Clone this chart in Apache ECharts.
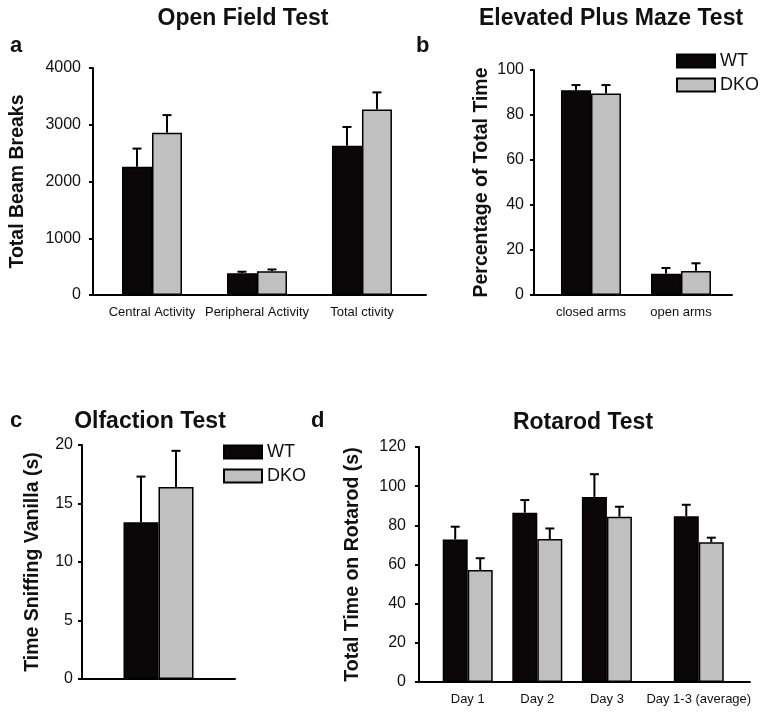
<!DOCTYPE html>
<html><head><meta charset="utf-8">
<script src="https://cdn.jsdelivr.net/npm/echarts@6/dist/echarts.min.js"></script>
<style>html,body{margin:0;padding:0;background:#fff}#c{width:768px;height:720px}</style>
</head><body><div id="c"></div>
<script>
// ---- data ----
const openFieldCats = ['Central Activity', 'Peripheral Activity', 'Total ctivity'];
const openFieldWT = [2260, 385, 2630];
const openFieldWTErr = [320, 25, 330];
const openFieldDKO = [2860, 420, 3270];
const openFieldDKOErr = [310, 30, 300];

const mazeCats = ['closed arms', 'open arms'];
const mazeWT = [91.0, 9.5];
const mazeWTErr = [2.3, 2.5];
const mazeDKO = [89.6, 10.7];
const mazeDKOErr = [3.7, 3.4];

const olfCats = [''];
const olfWT = [13.4];
const olfWTErr = [3.9];
const olfDKO = [16.4];
const olfDKOErr = [3.1];

const rotCats = ['Day 1', 'Day 2', 'Day 3', 'Day 1-3 (average)'];
const rotWT = [72.8, 86.4, 94.5, 84.7];
const rotWTErr = [6.5, 6.5, 11.6, 5.8];
const rotDKO = [57.2, 73.0, 84.4, 71.3];
const rotDKOErr = [6.0, 5.4, 5.1, 2.4];

const legendNames = ['WT', 'DKO'];
const yTicksA = [0, 4000, 1000];
const yTicksB = [0, 100, 20];
const yTicksC = [0, 20, 5];
const yTicksD = [0, 120, 20];

// ---- layout (not data) ----
const slotA = [0, 1, 2];
const slotB = [0, 1];
const slotD = [0, 1, 2, 3.32];

const FONT = '"Liberation Sans", Arial, Helvetica, sans-serif';
const TXT = '#111';
const BLACK = '#0b0709';
const GRAY = '#c0c0c0';

function pairs(xs, vs) { return vs.map((v, i) => [xs[i], v]); }
function triples(xs, vs, es) { return vs.map((v, i) => [xs[i], v, es[i]]); }

function errRender(offset) {
  return function (params, api) {
    const x = api.value(0), m = api.value(1), e = api.value(2);
    const p0 = api.coord([x, m]);
    const p1 = api.coord([x, m + e]);
    const cx = p0[0] + offset;
    return {
      type: 'group',
      children: [
        { type: 'line', shape: { x1: cx, y1: p0[1], x2: cx, y2: p1[1] }, style: { stroke: '#000', lineWidth: 2 } },
        { type: 'line', shape: { x1: cx - 4.5, y1: p1[1], x2: cx + 4.5, y2: p1[1] }, style: { stroke: '#000', lineWidth: 2 } }
      ]
    };
  };
}

function yAxis(gi, ticks, name, gap, margin) {
  return {
    type: 'value', gridIndex: gi, min: ticks[0], max: ticks[1], interval: ticks[2],
    name: name, nameLocation: 'middle', nameRotate: 90, nameGap: gap,
    nameTextStyle: { fontFamily: FONT, fontWeight: 'bold', fontSize: 19.5, color: TXT },
    axisLine: { show: true, onZero: false, lineStyle: { color: '#000', width: 2 } },
    axisTick: { show: true, length: 4, lineStyle: { color: '#000', width: 2 } },
    axisLabel: { fontFamily: FONT, fontSize: 16, color: TXT, margin: margin,
      formatter: function (v) { return String(v); } },
    splitLine: { show: false }
  };
}

function xValAxis(gi, min, max, slots, cats) {
  return {
    type: 'value', gridIndex: gi, min: min, max: max,
    axisLine: { show: true, onZero: false, lineStyle: { color: '#000', width: 2 } },
    axisTick: { show: false },
    splitLine: { show: false },
    axisLabel: {
      customValues: slots, fontFamily: FONT, fontSize: 13, color: TXT, margin: 11,
      formatter: function (v) {
        let best = 0;
        slots.forEach((s, i) => { if (Math.abs(s - v) < Math.abs(slots[best] - v)) best = i; });
        return cats[best];
      }
    }
  };
}

function barSeries(name, gi, data, color, width) {
  return {
    type: 'bar', name: name, xAxisIndex: gi, yAxisIndex: gi, data: data,
    barWidth: width, barGap: '0%',
    itemStyle: { color: color, borderColor: '#000', borderWidth: 1.5 },
    emphasis: { disabled: true }, z: 2
  };
}
function errSeries(gi, data, offset) {
  return {
    type: 'custom', xAxisIndex: gi, yAxisIndex: gi, data: data,
    renderItem: errRender(offset), z: 3, silent: true
  };
}

const titleStyle = { fontFamily: FONT, fontWeight: 'bold', fontSize: 23, color: TXT };
const labelStyle = { fontFamily: FONT, fontWeight: 'bold', fontSize: 22, color: TXT };

const option = {
  animation: false,
  backgroundColor: '#fff',
  title: [
    { text: 'Open Field Test', left: 243, top: 7, textAlign: 'center', padding: 0, textStyle: titleStyle },
    { text: 'Elevated Plus Maze Test', left: 611, top: 7, textAlign: 'center', padding: 0, textStyle: titleStyle },
    { text: 'Olfaction Test', left: 150, top: 410, textAlign: 'center', padding: 0, textStyle: titleStyle },
    { text: 'Rotarod Test', left: 583, top: 411, textAlign: 'center', padding: 0, textStyle: titleStyle },
    { text: 'a', left: 10, top: 35, padding: 0, textStyle: labelStyle },
    { text: 'b', left: 416, top: 35, padding: 0, textStyle: labelStyle },
    { text: 'c', left: 10, top: 410, padding: 0, textStyle: labelStyle },
    { text: 'd', left: 311, top: 410, padding: 0, textStyle: labelStyle }
  ],
  legend: [
    { data: legendNames, orient: 'vertical', left: 676, top: 52, itemWidth: 38, itemHeight: 13, itemGap: 6,
      padding: 0, selectedMode: false, icon: 'rect',
      textStyle: { fontFamily: FONT, fontSize: 18, color: TXT } },
    { data: legendNames, orient: 'vertical', left: 223, top: 443, itemWidth: 38, itemHeight: 13, itemGap: 6,
      padding: 0, selectedMode: false, icon: 'rect',
      textStyle: { fontFamily: FONT, fontSize: 18, color: TXT } }
  ],
  grid: [
    { left: 93, right: 342, top: 68, bottom: 425 },
    { left: 534, right: 36, top: 70, bottom: 425 },
    { left: 82, right: 533, top: 445, bottom: 41 },
    { left: 419, right: 18, top: 447, bottom: 38 }
  ],
  xAxis: [
    xValAxis(0, -0.562, 2.61, slotA, openFieldCats),
    xValAxis(1, -0.633, 1.567, slotB, mazeCats),
    { type: 'category', gridIndex: 2, data: olfCats,
      axisLine: { show: true, lineStyle: { color: '#000', width: 2 } },
      axisTick: { show: false }, axisLabel: { show: false }, splitLine: { show: false } },
    xValAxis(3, -0.70, 4.056, slotD, rotCats)
  ],
  yAxis: [
    yAxis(0, yTicksA, 'Total Beam Breaks', 65, 12),
    yAxis(1, yTicksB, 'Percentage of Total Time', 42, 10),
    yAxis(2, yTicksC, 'Time Sniffing Vanilla (s)', 39, 9),
    yAxis(3, yTicksD, 'Total Time on Rotarod (s)', 56, 13)
  ],
  series: [
    barSeries('WT', 0, pairs(slotA, openFieldWT), BLACK, 30),
    barSeries('DKO', 0, pairs(slotA, openFieldDKO), GRAY, 30),
    errSeries(0, triples(slotA, openFieldWT, openFieldWTErr), -15),
    errSeries(0, triples(slotA, openFieldDKO, openFieldDKOErr), 15),

    barSeries('WT', 1, pairs(slotB, mazeWT), BLACK, 30),
    barSeries('DKO', 1, pairs(slotB, mazeDKO), GRAY, 30),
    errSeries(1, triples(slotB, mazeWT, mazeWTErr), -15),
    errSeries(1, triples(slotB, mazeDKO, mazeDKOErr), 15),

    barSeries('WT', 2, olfWT, BLACK, 35),
    barSeries('DKO', 2, olfDKO, GRAY, 35),
    errSeries(2, triples([0], olfWT, olfWTErr), -17.5),
    errSeries(2, triples([0], olfDKO, olfDKOErr), 17.5),

    barSeries('WT', 3, pairs(slotD, rotWT), BLACK, 25),
    barSeries('DKO', 3, pairs(slotD, rotDKO), GRAY, 25),
    errSeries(3, triples(slotD, rotWT, rotWTErr), -12.5),
    errSeries(3, triples(slotD, rotDKO, rotDKOErr), 12.5)
  ]
};

const chart = echarts.init(document.getElementById('c'), null, { renderer: 'canvas' });
chart.setOption(option);
</script>
</body></html>
